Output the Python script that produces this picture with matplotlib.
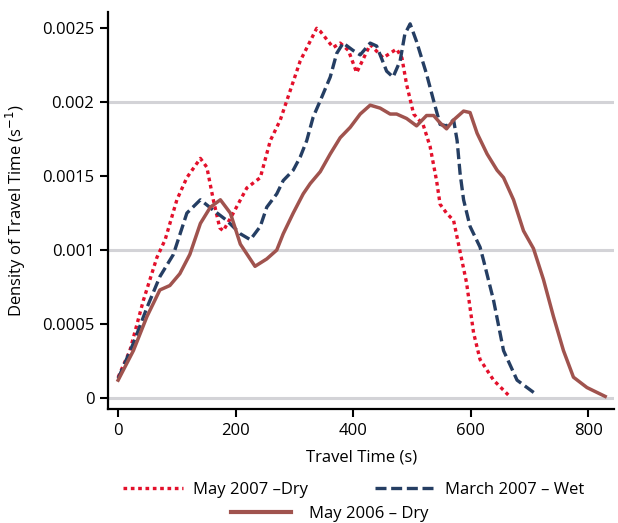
import numpy as np
import matplotlib.pyplot as plt
from matplotlib.lines import Line2D

plt.rcParams['font.family'] = ['Open Sans', 'DejaVu Sans']

# May 2007 - Dry (red dotted)
t_may07 = [0, 20, 43, 66, 80, 100, 117, 140, 151, 162, 173, 179, 196, 219, 242, 259,
           276, 293, 310, 338, 344, 366, 378, 392, 406, 429, 451, 474, 483, 491, 503,
           519, 531, 542, 548, 559, 571, 582, 593, 605, 616, 639, 664]
d_may07 = [0.00014, 0.00032, 0.00066, 0.00095, 0.00107, 0.00134, 0.00149, 0.00162,
           0.00156, 0.00134, 0.00115, 0.00113, 0.00125, 0.00142, 0.00149, 0.00174,
           0.00188, 0.00208, 0.00228, 0.0025, 0.00248, 0.00237, 0.0024, 0.00235,
           0.0022, 0.00239, 0.0023, 0.00236, 0.0023, 0.00212, 0.00192, 0.00185,
           0.0017, 0.00147, 0.00131, 0.00125, 0.0012, 0.00099, 0.00078, 0.00044,
           0.00026, 0.00012, 0.00002]

# March 2007 - Wet (blue dashed)
t_mar07 = [0, 26, 49, 71, 94, 117, 140, 162, 185, 208, 225, 242, 253, 270, 281, 298,
           310, 321, 332, 344, 361, 372, 383, 400, 412, 429, 440, 457, 468, 480, 488,
           497, 508, 525, 537, 548, 559, 571, 577, 582, 588, 599, 616, 622, 639, 656,
           679, 713]
d_mar07 = [0.00013, 0.00037, 0.00061, 0.00082, 0.00097, 0.00125, 0.00134, 0.00127,
           0.0012, 0.00111, 0.00107, 0.00116, 0.00129, 0.00138, 0.00147, 0.00154,
           0.00163, 0.00174, 0.0019, 0.00201, 0.00217, 0.00233, 0.0024, 0.00235,
           0.00232, 0.0024, 0.00238, 0.00221, 0.00217, 0.00228, 0.00246, 0.00253,
           0.00241, 0.00219, 0.00201, 0.00185, 0.00184, 0.00188, 0.00174, 0.00152,
           0.00134, 0.00116, 0.00102, 0.00093, 0.00066, 0.00032, 0.00012, 0.00002]

# May 2006 - Dry (brown solid)
t_may06 = [0, 26, 49, 71, 88, 105, 122, 140, 157, 174, 191, 208, 233, 253, 270, 281,
           298, 315, 327, 344, 361, 378, 395, 412, 429, 446, 463, 474, 491, 508, 525,
           537, 548, 559, 571, 588, 599, 611, 628, 645, 656, 673, 690, 707, 724, 741,
           758, 775, 798, 829]
d_may06 = [0.00012, 0.00032, 0.00055, 0.00073, 0.00076, 0.00084, 0.00097, 0.00118,
           0.00129, 0.00134, 0.00125, 0.00104, 0.00089, 0.00094, 0.001, 0.00111,
           0.00125, 0.00138, 0.00145, 0.00153, 0.00165, 0.00176, 0.00183, 0.00192,
           0.00198, 0.00196, 0.00192, 0.00192, 0.00189, 0.00184, 0.00191, 0.00191,
           0.00186, 0.00182, 0.00188, 0.00194, 0.00193, 0.00179, 0.00165, 0.00154,
           0.00149, 0.00134, 0.00113, 0.00101, 0.0008, 0.00055, 0.00032, 0.00014,
           0.00007, 0.00001]

xticks = [0, 200, 400, 600, 800]
yticks = [0, 0.0005, 0.001, 0.0015, 0.002, 0.0025]
ytick_labels = ["0", "0.0005", "0.001", "0.0015", "0.002", "0.0025"]
grid_levels = [0, 0.001, 0.002]

red = "#E3102B"
blue = "#253E63"
brown = "#A0534E"
dotted = (0, (1.1, 1.1))
dashed = (0, (3.3, 1.4))

fig = plt.figure(figsize=(6.18, 5.23), dpi=100)
ax = fig.add_axes([0.175, 0.218, 0.8185, 0.759])

for g in grid_levels:
    ax.axhline(g, color="#D3D3D7", linewidth=2.2, zorder=0)

ax.plot(t_may07, d_may07, color=red, linewidth=2.4, linestyle=dotted,
        dash_capstyle="butt", solid_joinstyle="round")
ax.plot(t_mar07, d_mar07, color=blue, linewidth=2.4, linestyle=dashed)
ax.plot(t_may06, d_may06, color=brown, linewidth=2.5, solid_joinstyle="round")

ax.set_xlim(-17, 844)
ax.set_ylim(-0.000075, 0.00261)
ax.set_xticks(xticks)
ax.set_yticks(yticks)
ax.set_yticklabels(ytick_labels)
ax.tick_params(axis="both", direction="out", length=6, width=1.5, labelsize=12,
               colors="black", pad=4)
for side in ["top", "right"]:
    ax.spines[side].set_visible(False)
for side in ["left", "bottom"]:
    ax.spines[side].set_linewidth(1.6)

ax.set_xlabel("Travel Time (s)", fontsize=12, labelpad=8)
ax.set_ylabel("Density of Travel Time (s$^{-1}$)", fontsize=12, labelpad=10)

h_red = Line2D([], [], color=red, linewidth=2.4, linestyle=dotted)
h_blue = Line2D([], [], color=blue, linewidth=2.4, linestyle=dashed)
h_brown = Line2D([], [], color=brown, linewidth=3)

fig.legend([h_red, h_blue], ["May 2007 \u2013Dry", "March 2007 \u2013 Wet"],
           ncol=2, loc="center", bbox_to_anchor=(0.572, 0.063), frameon=False,
           fontsize=12, handlelength=3.6, columnspacing=4.05, handletextpad=0.6)
fig.legend([h_brown], ["May 2006 \u2013 Dry"], loc="center",
           bbox_to_anchor=(0.534, 0.018), frameon=False, fontsize=12,
           handlelength=3.6, handletextpad=1.1)

fig.savefig("out.png", dpi=100)
